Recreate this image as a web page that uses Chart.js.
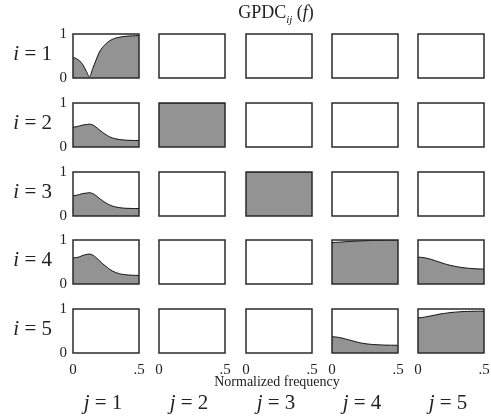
<!DOCTYPE html>
<html>
<head>
<meta charset="utf-8">
<script src="https://cdn.jsdelivr.net/npm/chart.js@4"></script>
<style>
  body { margin: 0; background: #fff; }
  #wrap { position: relative; width: 491px; height: 417px; overflow: hidden; font-family: "Liberation Serif", serif; color: #222; }
  canvas { position: absolute; }
  .lbl { position: absolute; white-space: nowrap; line-height: 1; }
</style>
</head>
<body>
<div id="wrap"></div>
<script>
// normalized frequency samples
const freq = [0, 0.025, 0.05, 0.075, 0.1, 0.125, 0.15, 0.175, 0.2, 0.225, 0.25,
  0.275, 0.3, 0.325, 0.35, 0.375, 0.4, 0.425, 0.45, 0.475, 0.5];

const gpdc11 = [0.47, 0.44, 0.39, 0.30, 0.16, 0.03, 0.22, 0.41, 0.59, 0.70, 0.78,
  0.84, 0.88, 0.91, 0.925, 0.94, 0.948, 0.954, 0.958, 0.962, 0.965];
const gpdc21 = [0.45, 0.46, 0.48, 0.50, 0.51, 0.52, 0.50, 0.45, 0.39, 0.33, 0.28,
  0.235, 0.205, 0.185, 0.17, 0.162, 0.156, 0.152, 0.149, 0.147, 0.145];
const gpdc31 = [0.46, 0.47, 0.49, 0.51, 0.52, 0.53, 0.51, 0.46, 0.40, 0.345, 0.295,
  0.255, 0.225, 0.205, 0.19, 0.182, 0.176, 0.173, 0.171, 0.17, 0.17];
const gpdc41 = [0.59, 0.60, 0.62, 0.65, 0.67, 0.68, 0.655, 0.60, 0.53, 0.46, 0.40,
  0.34, 0.295, 0.26, 0.235, 0.22, 0.21, 0.203, 0.199, 0.197, 0.195];
const gpdc44 = [0.94, 0.945, 0.95, 0.955, 0.96, 0.965, 0.97, 0.975, 0.978, 0.981, 0.984,
  0.987, 0.989, 0.991, 0.993, 0.994, 0.995, 0.996, 0.997, 0.998, 0.998];
const gpdc45 = [0.61, 0.605, 0.595, 0.58, 0.56, 0.535, 0.51, 0.485, 0.46, 0.44, 0.42,
  0.405, 0.39, 0.378, 0.368, 0.36, 0.353, 0.348, 0.344, 0.341, 0.34];
const gpdc54 = [0.37, 0.365, 0.355, 0.34, 0.32, 0.30, 0.28, 0.26, 0.24, 0.225, 0.212,
  0.203, 0.196, 0.19, 0.186, 0.183, 0.18, 0.178, 0.177, 0.176, 0.175];
const gpdc55 = [0.80, 0.805, 0.815, 0.83, 0.845, 0.86, 0.875, 0.89, 0.90, 0.91, 0.92,
  0.927, 0.933, 0.938, 0.942, 0.945, 0.947, 0.949, 0.95, 0.951, 0.952];
const gpdcFull = [1, 1, 1, 1, 1, 1, 1, 1, 1, 1, 1, 1, 1, 1, 1, 1, 1, 1, 1, 1, 1];

// rows i, columns j (null = empty panel)
const grid = [
  [gpdc11, null, null, null, null],
  [gpdc21, gpdcFull, null, null, null],
  [gpdc31, null, gpdcFull, null, null],
  [gpdc41, null, null, gpdc44, gpdc45],
  [null, null, null, gpdc54, gpdc55],
];

const yTicks = [0, 1];
const xTicks = [0, 0.5];
const xTickLabels = ["0", ".5"];

// panel placement
const colX = [73, 159, 246, 332, 418];
const rowY = [28, 97, 166, 234, 303];
const panelW = 66, panelH = 50;
const axisW = 16, axisH = 28, padTop = 9, padRight = 18;

const wrap = document.getElementById("wrap");

const frame = {
  id: "frame",
  afterDatasetsDraw(chart) {
    const a = chart.chartArea, ctx = chart.ctx;
    ctx.save();
    ctx.strokeStyle = "#2a2a2a";
    ctx.lineWidth = 1.5;
    ctx.strokeRect(a.left, a.top, a.right - a.left, a.bottom - a.top);
    ctx.restore();
  },
};

function addLabel(html, css) {
  const d = document.createElement("div");
  d.className = "lbl";
  d.innerHTML = html;
  Object.assign(d.style, css);
  wrap.appendChild(d);
}

for (let i = 0; i < 5; i++) {
  for (let j = 0; j < 5; j++) {
    const cv = document.createElement("canvas");
    cv.width = axisW + panelW + padRight;
    cv.height = padTop + panelH + axisH;
    cv.style.left = colX[j] - axisW + "px";
    cv.style.top = rowY[i] - padTop + "px";
    wrap.appendChild(cv);

    const vals = grid[i][j];
    const datasets = vals ? [{
      data: freq.map((f, k) => ({ x: f, y: vals[k] })),
      fill: "origin",
      backgroundColor: "#939393",
      borderColor: "#111",
      borderWidth: 1,
      pointRadius: 0,
      tension: 0.3,
    }] : [];

    new Chart(cv, {
      type: "line",
      data: { datasets: datasets },
      options: {
        responsive: false,
        animation: false,
        events: [],
        layout: { padding: { top: padTop, right: padRight, left: 0, bottom: 0 } },
        plugins: { legend: { display: false }, tooltip: { enabled: false } },
        scales: {
          x: {
            type: "linear",
            min: 0,
            max: 0.5,
            afterFit: (s) => { s.height = axisH; },
            afterBuildTicks: (s) => { s.ticks = xTicks.map((v) => ({ value: v })); },
            grid: { display: false, drawTicks: false },
            border: { display: false },
            ticks: {
              padding: 8,
              maxRotation: 0,
              autoSkip: false,
              color: i === 4 ? "#222" : "rgba(0,0,0,0)",
              font: { family: "Liberation Serif", size: 15 },
              callback: (v) => xTickLabels[xTicks.indexOf(v)],
            },
          },
          y: {
            min: 0,
            max: 1,
            afterFit: (s) => { s.width = axisW; },
            afterBuildTicks: (s) => { s.ticks = yTicks.map((v) => ({ value: v })); },
            grid: { display: false, drawTicks: false },
            border: { display: false },
            ticks: {
              padding: 6,
              color: j === 0 ? "#222" : "rgba(0,0,0,0)",
              font: { family: "Liberation Serif", size: 15 },
            },
          },
        },
      },
      plugins: [frame],
    });
  }
}

// row labels
for (let i = 0; i < 5; i++) {
  addLabel("<i>i</i>&nbsp;=&nbsp;" + (i + 1), {
    right: 491 - 52 + "px",
    top: rowY[i] + panelH / 2 - 10 + "px",
    fontSize: "21px",
  });
}
// column labels
for (let j = 0; j < 5; j++) {
  addLabel("<i>j</i>&nbsp;=&nbsp;" + (j + 1), {
    left: colX[j] + panelW / 2 - 3 + "px",
    top: "392px",
    fontSize: "21px",
    transform: "translateX(-50%)",
  });
}
addLabel("Normalized frequency", {
  left: "277px", top: "375px", fontSize: "14px", transform: "translateX(-50%)",
});
addLabel("GPDC<sub style=\"font-size:11px;font-style:italic\">ij</sub>&nbsp;(<i>f</i>)", {
  left: "276px", top: "3px", fontSize: "18px", transform: "translateX(-50%)",
});
</script>
</body>
</html>
